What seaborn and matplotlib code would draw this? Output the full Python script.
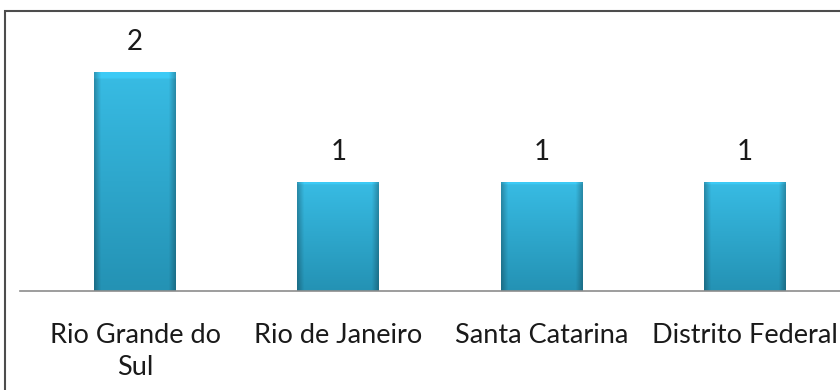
import numpy as np
import pandas as pd
import matplotlib
matplotlib.use("Agg")
import matplotlib.pyplot as plt
import seaborn as sns
from matplotlib.patches import Rectangle

categories = ["Rio Grande do\nSul", "Rio de Janeiro", "Santa Catarina", "Distrito Federal"]
values = [2, 1, 1, 1]

sns.set_theme(style="white")
plt.rcParams['font.family'] = ['Lato', 'DejaVu Sans']

W, H = 840, 390
fig = plt.figure(figsize=(W/100, H/100), dpi=100)
ax_left, ax_right = 20, 840
ax_top, ax_bottom = 20, 291
ax = fig.add_axes([ax_left/W, (H-ax_bottom)/H, (ax_right-ax_left)/W, (ax_bottom-ax_top)/H])

df = pd.DataFrame({"cat": categories, "val": values})
sns.barplot(data=df, x="cat", y="val", ax=ax, color="#2AA8CF", width=0.403,
            saturation=1, edgecolor="none")

px_per_unit = 203.33
ax.set_xlim((ax_left-135)/px_per_unit, 3 + (ax_right-745)/px_per_unit)
ax.set_ylim(0, (ax_bottom-ax_top)/109.5)

# gradient fill for each bar
ny, nx = 100, 60
t = np.linspace(0, 1, ny)[:, None]
top = np.array([0x38, 0xBC, 0xE4]) / 255
bot = np.array([0x24, 0x92, 0xB4]) / 255
img = top[None, None, :] * (1 - t[..., None]) + bot[None, None, :] * t[..., None]
img = np.repeat(img, nx, axis=1)
u = np.linspace(0, 1, nx)
edge = np.clip(np.minimum(u, 1 - u) / 0.08, 0, 1)
shade = 0.75 + 0.25 * edge
img = img * shade[None, :, None]
img[:3, :, :] = np.clip(img[:3, :, :] * 1.08, 0, 1)
for p in ax.patches:
    x0, y0 = p.get_x(), p.get_y()
    w, h = p.get_width(), p.get_height()
    im = ax.imshow(img, extent=[x0, x0 + w, y0, y0 + h], aspect='auto',
                   origin='upper', zorder=p.get_zorder() + 0.1, interpolation='bilinear')
    im.set_clip_path(p)
    ax.text(x0 + w/2, y0 + h + 30/109.5, f"{int(h)}", ha='center', va='center',
            fontsize=20, color='#1a1a1a')

ax.set_xlabel("")
ax.set_ylabel("")
ax.set_yticks([])
for s in ["top", "right", "left"]:
    ax.spines[s].set_visible(False)
ax.spines["bottom"].set_color("#8c8c8c")
ax.spines["bottom"].set_linewidth(1.2)
ax.tick_params(axis='x', length=0, pad=23, labelsize=19.5, labelcolor='#1a1a1a')
for lab in ax.get_xticklabels():
    lab.set_verticalalignment('top')
    lab.set_linespacing(1.35)

fig.patches.append(Rectangle((4.5/W, -0.1), 1.2, (H-11)/H + 0.1, transform=fig.transFigure,
                             fill=False, edgecolor='#4d4d4d', linewidth=1.5))
fig.savefig("out.png", dpi=100)
